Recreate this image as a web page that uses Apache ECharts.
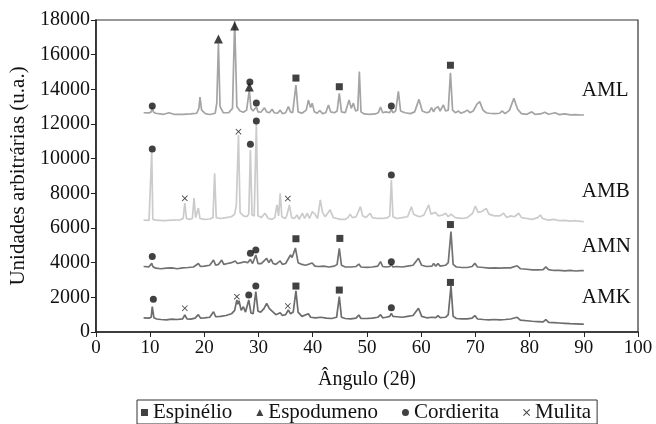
<!DOCTYPE html>
<html>
<head>
<meta charset="utf-8">
<script src="https://cdn.jsdelivr.net/npm/echarts@6/dist/echarts.min.js"></script>
<style>
html, body { margin: 0; padding: 0; background: #fff; }
#chart { width: 656px; height: 424px; }
</style>
</head>
<body>
<div id="chart"></div>
<script>
// difratogramas: [2theta, intensidade]
const AML = [[8.8,12650],[9.8,12640],[10.2,12700],[10.4,12950],[10.6,12700],[11.0,12620],[12.5,12560],[13.5,12650],[14.5,12550],[16.0,12560],[17.5,12580],[18.6,12620],[19.0,12900],[19.2,13550],[19.5,12800],[20.2,12600],[21.0,12550],[22.0,12620],[22.3,13200],[22.6,16650],[22.9,13000],[23.5,12650],[24.5,12660],[25.2,12900],[25.6,17980],[26.0,13000],[26.6,12750],[27.2,12680],[27.8,12800],[28.3,13950],[28.6,12900],[29.0,12750],[29.3,12800],[29.6,12990],[29.9,12700],[30.4,12680],[31.1,12930],[31.5,12700],[32.0,12650],[32.5,12850],[32.9,12650],[33.5,12620],[34.0,12800],[34.4,12600],[35.0,12650],[35.5,13000],[35.9,12700],[36.3,12650],[36.9,14250],[37.3,12700],[38.0,12620],[38.8,12800],[39.2,13380],[39.6,12950],[39.9,13200],[40.3,12700],[40.8,12620],[41.3,12780],[41.8,12600],[42.4,12650],[42.9,13100],[43.3,12700],[44.0,12650],[44.5,12750],[44.9,13770],[45.3,12700],[46.0,12650],[46.7,13380],[47.1,12900],[47.5,13200],[47.9,12750],[48.3,12800],[48.6,15020],[48.9,12700],[49.5,12580],[50.5,12560],[51.5,12580],[52.1,12650],[52.5,12980],[52.9,12650],[53.5,12700],[54.2,12650],[54.5,12850],[54.8,12650],[55.3,12750],[55.8,13880],[56.2,12750],[57.0,12650],[58.0,12600],[58.8,12700],[59.6,13420],[60.2,12750],[61.0,12650],[61.5,12700],[61.9,12950],[62.3,12700],[62.6,12900],[63.1,13000],[63.5,12750],[64.1,13100],[64.5,12750],[65.0,12800],[65.4,14950],[65.8,12800],[66.3,12650],[66.9,12750],[67.3,12620],[68.0,12700],[68.5,12800],[69.0,12650],[69.6,12750],[70.3,13150],[70.8,13290],[71.4,12800],[72.0,12650],[72.5,12620],[73.5,12600],[74.5,12620],[74.9,12750],[75.5,12600],[76.3,12800],[77.1,13480],[77.8,12850],[78.5,12600],[79.5,12560],[80.4,12700],[81.0,12560],[82.0,12580],[82.8,12680],[83.5,12560],[84.7,12650],[85.5,12540],[86.5,12580],[87.5,12530],[88.5,12540],[89.5,12520],[90.0,12530]];
const AMB = [[8.8,6450],[9.8,6440],[10.1,6500],[10.3,10400],[10.5,6500],[11.0,6450],[12.5,6430],[14.0,6450],[15.5,6470],[16.1,6550],[16.4,7440],[16.7,6550],[17.3,6500],[17.8,6550],[18.1,7730],[18.4,6600],[18.7,6600],[18.9,7150],[19.2,6550],[20.0,6500],[21.0,6520],[21.6,6600],[21.9,9150],[22.2,6600],[23.0,6550],[24.0,6600],[25.0,6650],[25.6,6800],[25.9,7300],[26.3,11370],[26.6,6900],[27.2,6700],[27.8,6650],[28.2,6800],[28.5,10500],[28.8,6750],[29.2,6700],[29.6,12000],[29.9,6700],[30.5,6600],[31.2,6850],[31.8,6550],[32.5,6500],[33.0,6600],[33.4,7330],[33.7,6700],[34.0,8000],[34.3,6650],[34.9,6550],[35.2,6700],[35.7,7330],[36.1,6600],[36.6,6550],[37.1,6750],[37.5,6500],[38.1,6850],[38.5,6550],[39.0,6850],[39.4,6550],[39.9,6940],[40.4,6800],[40.9,6550],[41.4,7620],[41.8,6900],[42.3,6650],[43.2,7050],[43.8,6600],[44.5,6550],[45.0,6500],[46.0,6500],[46.5,6600],[46.9,6800],[47.3,6600],[48.0,6650],[48.8,7230],[49.2,6700],[49.8,6600],[50.6,6850],[51.0,6600],[52.0,6550],[53.0,6550],[53.8,6600],[54.2,6700],[54.5,8770],[54.8,6650],[55.5,6550],[56.5,6600],[57.5,6650],[58.2,7230],[58.6,6800],[59.2,6700],[59.8,6650],[60.5,6750],[61.4,7330],[61.8,6800],[62.6,6900],[63.2,6700],[64.0,6750],[64.5,6850],[65.0,6650],[65.5,6800],[66.3,6600],[67.5,6550],[68.5,6600],[69.5,6850],[70.0,7270],[70.5,6900],[71.2,6950],[72.0,7130],[72.5,6800],[73.5,6700],[74.5,6700],[75.2,6850],[75.8,6600],[76.5,6700],[77.2,6650],[78.0,6850],[78.5,6600],[79.5,6550],[80.5,6500],[81.5,6600],[82.0,6750],[82.4,6550],[83.5,6450],[84.5,6500],[85.5,6420],[86.5,6440],[87.5,6400],[88.5,6420],[89.5,6380],[90.0,6370]];
const AMN = [[8.8,3780],[9.8,3760],[10.1,3800],[10.3,3960],[10.5,3780],[11.0,3680],[12.0,3650],[13.0,3680],[14.0,3700],[15.0,3650],[16.0,3700],[17.0,3720],[18.0,3750],[18.9,3950],[19.3,3780],[20.0,3800],[21.0,3850],[21.7,4150],[22.1,3850],[22.6,3900],[23.2,4150],[23.6,3900],[24.3,3950],[25.0,4000],[25.7,4100],[26.1,3950],[26.8,4000],[27.4,4050],[28.0,4000],[28.5,4190],[28.9,3950],[29.5,4440],[29.9,3950],[30.5,3950],[31.5,4250],[31.9,4000],[32.3,4200],[32.7,3950],[33.2,3900],[34.0,4100],[34.4,3900],[35.0,3950],[35.9,4440],[36.2,4300],[36.8,4850],[37.3,4000],[38.0,3900],[38.7,3850],[39.9,3980],[40.4,3800],[41.0,3780],[42.0,3800],[43.0,3750],[44.0,3800],[44.5,3900],[44.9,4830],[45.3,3850],[46.0,3750],[47.0,3750],[48.0,3780],[48.5,3920],[48.9,3750],[50.0,3730],[51.0,3750],[52.0,3800],[52.5,4060],[52.9,3780],[53.5,3750],[54.2,3780],[54.5,3900],[54.8,3750],[55.5,3780],[56.5,3750],[57.5,3800],[58.5,3850],[59.5,4250],[60.1,3850],[61.0,3780],[62.0,3800],[62.3,3950],[62.7,3800],[63.1,3950],[63.5,3800],[64.5,3850],[65.0,4000],[65.5,5790],[65.9,3900],[66.5,3750],[67.5,3720],[68.5,3720],[69.4,3780],[69.9,3960],[70.4,3750],[71.5,3720],[72.5,3680],[73.5,3700],[74.5,3680],[75.5,3700],[76.5,3700],[77.7,3820],[78.3,3650],[79.5,3620],[80.5,3580],[81.5,3580],[82.5,3600],[83.0,3760],[83.5,3600],[84.5,3550],[85.5,3560],[86.5,3530],[87.5,3550],[88.5,3520],[89.5,3540],[90.0,3540]];
const AMK = [[8.8,820],[9.8,800],[10.2,850],[10.4,1460],[10.7,820],[11.2,750],[12.0,720],[13.0,700],[14.0,740],[15.0,720],[16.0,760],[16.4,980],[16.8,760],[17.5,740],[18.3,800],[18.9,1000],[19.3,800],[20.0,820],[21.0,850],[21.7,1170],[22.1,880],[23.0,900],[24.0,950],[25.0,1050],[25.6,1250],[26.0,1850],[26.2,1600],[26.4,1800],[26.8,1250],[27.2,1460],[27.6,1150],[28.2,1850],[28.6,1100],[29.0,1050],[29.5,2330],[29.9,1200],[30.4,1150],[31.0,1350],[31.5,1650],[32.0,1350],[32.5,1200],[33.2,1000],[34.0,1110],[34.4,950],[35.0,1000],[35.5,1270],[35.9,1050],[36.4,1150],[36.9,2380],[37.3,1150],[38.0,900],[39.2,1050],[39.6,850],[40.5,820],[41.5,850],[42.5,800],[43.5,780],[44.4,850],[44.9,2040],[45.3,850],[46.0,780],[47.0,760],[48.0,800],[48.5,980],[48.9,780],[50.0,780],[51.0,800],[52.0,850],[52.5,1000],[52.9,820],[53.5,850],[54.2,900],[54.5,1070],[54.8,900],[55.5,880],[56.5,850],[57.5,900],[58.5,950],[59.5,1370],[60.1,900],[61.0,820],[62.0,850],[62.3,950],[62.7,830],[63.1,950],[63.5,830],[64.5,850],[65.0,1000],[65.5,2650],[65.9,900],[66.5,780],[67.5,760],[68.5,760],[69.4,800],[69.9,950],[70.4,750],[71.5,720],[72.5,700],[73.5,720],[74.5,700],[75.5,720],[76.5,750],[77.7,850],[78.3,680],[79.5,650],[80.5,620],[81.5,600],[82.5,580],[83.0,720],[83.5,560],[84.5,540],[85.5,520],[86.5,500],[87.5,480],[88.5,470],[89.5,450],[90.0,450]];

// marcadores de fase
const espinelio = [[36.9,14650],[44.9,14150],[65.4,15390],[36.9,5380],[45.0,5400],[65.4,6200],[36.9,2650],[44.9,2420],[65.4,2860]];
const espodumeno = [[22.6,16900],[25.6,17650],[28.3,14130]];
const cordierita = [[10.4,13040],[28.4,14420],[29.6,13210],[54.5,13040],[10.4,10560],[28.5,10830],[29.6,12170],[54.5,9060],[10.4,4350],[28.5,4540],[29.5,4730],[54.5,4060],[10.6,1890],[28.2,2130],[29.5,2650],[54.5,1400]];
const mulita = [[16.4,7710],[26.3,11560],[35.4,7700],[16.4,1370],[26.0,2040],[35.4,1500]];

const serif = 'Liberation Serif';
const xPath = 'path://M0,1L1,0L5,4L9,0L10,1L6,5L10,9L9,10L5,6L1,10L0,9L4,5Z';

function curve(name, data, color, dy) {
    return {
        name: name,
        type: 'line',
        data: data,
        showSymbol: false,
        symbol: 'none',
        lineStyle: { color: color, width: 1.7 },
        itemStyle: { color: color },
        endLabel: {
            show: true,
            formatter: '{a}',
            distance: 0,
            offset: [-2, dy],
            color: '#111',
            fontFamily: serif,
            fontSize: 21
        },
        z: 2
    };
}
function marks(name, data, symbol, size) {
    return {
        name: name,
        type: 'scatter',
        data: data,
        symbol: symbol,
        symbolSize: size,
        itemStyle: { color: '#111' },
        z: 5
    };
}

const option = {
    animation: false,
    grid: { left: 94, right: 18, top: 20, bottom: 92, show: true, borderColor: '#333', borderWidth: 1.2 },
    xAxis: {
        type: 'value',
        min: 0, max: 100, interval: 10,
        name: 'Ângulo (2θ)',
        nameLocation: 'middle',
        nameGap: 38,
        nameTextStyle: { fontFamily: serif, fontSize: 20, color: '#111' },
        axisLine: { lineStyle: { color: '#222', width: 1.5 } },
        axisTick: { show: true, length: 5, lineStyle: { color: '#222' } },
        axisLabel: { fontFamily: serif, fontSize: 19, color: '#111', margin: 7 },
        splitLine: { show: false }
    },
    yAxis: {
        type: 'value',
        min: 0, max: 18000, interval: 2000,
        name: 'Unidades arbitrárias (u.a.)',
        nameLocation: 'middle',
        nameGap: 53,
        nameTextStyle: { fontFamily: serif, fontSize: 21, color: '#111' },
        axisLine: { show: true, lineStyle: { color: '#222', width: 1.5 } },
        axisTick: { show: true, length: 5, lineStyle: { color: '#222' } },
        axisLabel: { fontFamily: serif, fontSize: 20, color: '#111', margin: 6, formatter: function (v) { return String(v); } },
        splitLine: { show: false }
    },
    legend: {
        data: ['Espinélio', 'Espodumeno', 'Cordierita', 'Mulita'],
        bottom: 0,
        left: 137,
        itemWidth: 7,
        itemHeight: 7,
        itemGap: 24,
        padding: [2, 6, 1, 4],
        borderColor: '#333',
        borderWidth: 1,
        textStyle: { fontFamily: serif, fontSize: 21, color: '#111' }
    },
    series: [
        curve('AML', AML, '#a4a4a4', -24),
        curve('AMB', AMB, '#cbcbcb', -30),
        curve('AMN', AMN, '#727272', -24),
        curve('AMK', AMK, '#6c6c6c', -27),
        marks('Espinélio', espinelio, 'rect', 7),
        marks('Espodumeno', espodumeno, 'triangle', 9),
        marks('Cordierita', cordierita, 'circle', 7),
        marks('Mulita', mulita, xPath, 6)
    ]
};

const chart = echarts.init(document.getElementById('chart'));
chart.setOption(option);
</script>
</body>
</html>
